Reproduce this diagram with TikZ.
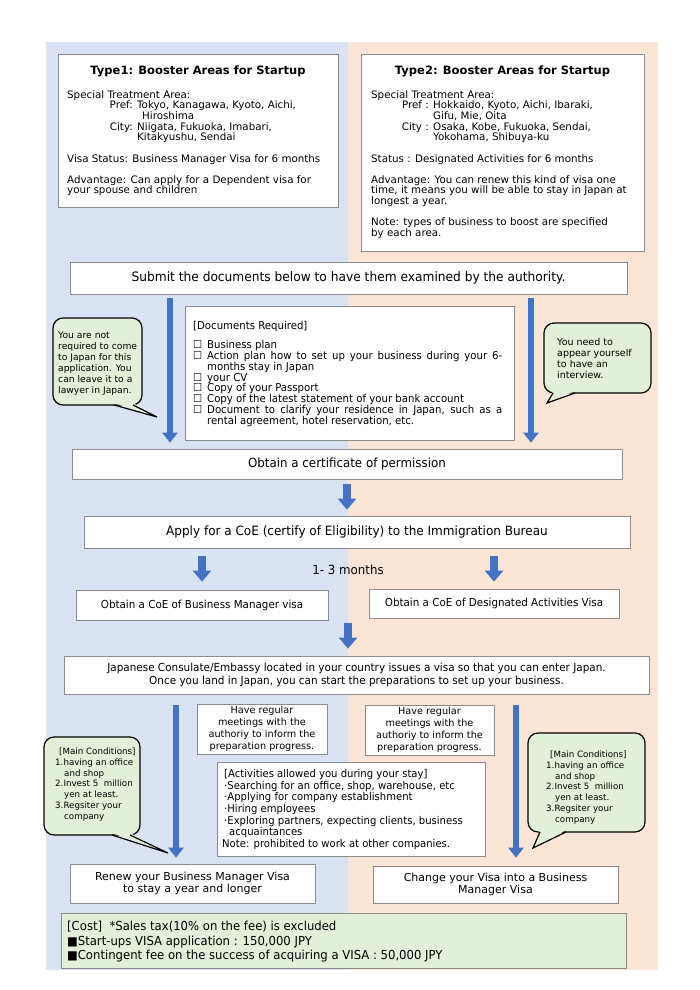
\documentclass[tikz,border=0pt]{standalone}
\usepackage{fontspec}
\setmainfont{DejaVu Sans}
\newfontfamily\uifont[FakeStretch=0.94]{DejaVu Sans}
\usetikzlibrary{arrows.meta}

\definecolor{panelblue}{HTML}{DAE3F3}
\definecolor{panelpeach}{HTML}{FBE5D6}
\definecolor{calloutgreen}{HTML}{E2F0D9}
\definecolor{arrowblue}{HTML}{4472C4}
\definecolor{boxgray}{HTML}{8C8C8C}

% one line of the documents list, with a hanging check box
\newcommand{\docitem}[1]{\par\noindent\hangindent=14pt\hangafter=1\makebox[14pt][l]{☐}#1\par}
% small black square of the cost list
\newcommand{\costmark}{{\fontsize{12}{12}\selectfont ■}}

\begin{document}
\begin{tikzpicture}[x=1pt, y=-1pt,
    box/.style={draw=boxgray, fill=white, line width=0.7pt, inner sep=0pt},
    typetitle/.style={font=\bfseries\fontsize{11.5}{13}\selectfont, inner sep=0pt},
    typebody/.style={font=\fontsize{10.3}{10.7}\selectfont, align=left, inner sep=0pt, anchor=north west},
    steptext/.style={font=\uifont\fontsize{12.8}{14}\selectfont, align=center, inner sep=0pt},
    calloutbox/.style={draw=black, fill=calloutgreen, line width=1.2pt, rounded corners=10pt, inner sep=0pt},
    callouttext/.style={font=\fontsize{9.2}{11}\selectfont, align=left, inner sep=0pt, anchor=north west},
    tailline/.style={draw=black, line width=1.2pt, line join=miter},
    blockarrow/.style={draw=arrowblue, line width=6pt, -{Triangle[length=10pt, width=15pt]}},
  ]

    \useasboundingbox (0,0) rectangle (700,990);

    % Two coloured halves of the background
    \fill[panelblue] (46,42) rectangle (348,970);
    \fill[panelpeach] (348,42) rectangle (658,970);

    % Type1 box
    \node[box, minimum width=280, minimum height=153] (type1) at (198,130.5) {};
    \node[typetitle] (type1title) at (198,71) {Type1: Booster Areas for Startup};
    \node[typebody] (type1body) at (67,90) {Special Treatment Area:\\
        \makebox[70pt][r]{Pref: }Tokyo, Kanagawa, Kyoto, Aichi,\\
        \hspace*{75pt}Hiroshima\\
        \makebox[70pt][r]{City: }Niigata, Fukuoka, Imabari,\\
        \hspace*{70pt}Kitakyushu, Sendai\\[10.5pt]
        Visa Status: Business Manager Visa for 6 months\\[10.5pt]
        Advantage: Can apply for a Dependent visa for\\
        your spouse and children};

    % Type2 box
    \node[box, minimum width=283, minimum height=197] (type2) at (502.5,152.5) {};
    \node[typetitle] (type2title) at (502.5,71) {Type2: Booster Areas for Startup};
    \node[typebody] (type2body) at (371,90) {Special Treatment Area:\\
        \makebox[62pt][r]{Pref : }Hokkaido, Kyoto, Aichi, Ibaraki,\\
        \hspace*{62pt}Gifu, Mie, Oita\\
        \makebox[62pt][r]{City : }Osaka, Kobe, Fukuoka, Sendai,\\
        \hspace*{62pt}Yokohama, Shibuya-ku\\[10.5pt]
        Status : Designated Activities for 6 months\\[10.5pt]
        Advantage: You can renew this kind of visa one\\
        time, it means you will be able to stay in Japan at\\
        longest a year.\\[10.5pt]
        Note: types of business to boost are specified\\
        by each area.};

    % Submit step
    \node[box, minimum width=557, minimum height=32] (submit) at (348.5,278) {};
    \node[steptext, font=\uifont\fontsize{13}{14}\selectfont] (submittext) at (submit) {Submit the documents below to have them examined by the authority.};

    % Documents required
    \node[box, minimum width=329, minimum height=134] (docs) at (349.5,373) {};
    \node[inner sep=0pt, anchor=north west, text width=309, align=justify,
          font=\uifont\fontsize{10.8}{10.8}\selectfont] (docslist) at (193,321) {%
        \noindent[Documents Required]\par\vspace{8.5pt}
        \docitem{Business plan}
        \docitem{Action plan how to set up your business during your 6-\linebreak months stay in Japan}
        \docitem{your CV}
        \docitem{Copy of your Passport}
        \docitem{Copy of the latest statement of your bank account}
        \docitem{Document to clarify your residence in Japan, such as a\linebreak rental agreement, hotel reservation, etc.}};

    % Callout: no need to come to Japan
    \node[calloutbox, minimum width=89, minimum height=87] (notreq) at (97.5,361.5) {};
    \fill[calloutgreen] (114,403) -- (157,417) -- (133,403) -- cycle;
    \draw[tailline] (114,405) -- (157,417) -- (133,405);
    \node[callouttext] (notreqtext) at (58,332) {You are not\\required to come\\to Japan for this\\application. You\\can leave it to a\\lawyer in Japan.};

    % Callout: interview
    \node[calloutbox, minimum width=107, minimum height=70] (interview) at (597.5,358) {};
    \fill[calloutgreen] (553,391) -- (547,403) -- (575,391) -- cycle;
    \draw[tailline] (553,393) -- (547,403) -- (575,393);
    \node[callouttext, font=\fontsize{9.5}{11}\selectfont] (interviewtext) at (557,338) {You need to\\appear yourself\\to have an\\interview.};

    % Certificate of permission
    \node[box, minimum width=550, minimum height=30] (cert) at (347,464) {};
    \node[steptext, font=\uifont\fontsize{12.6}{14}\selectfont] (certtext) at (cert) {Obtain a certificate of permission};

    % Apply for CoE
    \node[box, minimum width=546, minimum height=32] (apply) at (357,532) {};
    \node[steptext] (applytext) at (apply) {Apply for a CoE (certify of Eligibility) to the Immigration Bureau};
    \node[steptext, font=\uifont\fontsize{12.6}{14}\selectfont] (months) at (348,570) {1- 3 months};

    % The two CoE results
    \node[box, minimum width=252, minimum height=30] (coebm) at (202,605) {};
    \node[steptext, font=\uifont\fontsize{11}{12}\selectfont] (coebmtext) at (coebm) {Obtain a CoE of Business Manager visa};
    \node[box, minimum width=250, minimum height=29] (coeda) at (494,603.5) {};
    \node[steptext, font=\uifont\fontsize{11}{12}\selectfont] (coedatext) at (coeda) {Obtain a CoE of Designated Activities Visa};

    % Visa issued by the consulate
    \node[box, minimum width=585, minimum height=38] (consulate) at (356.5,675) {};
    \node[steptext, font=\uifont\fontsize{11.1}{13}\selectfont] (consulatetext) at (consulate) {Japanese Consulate/Embassy located in your country issues a visa so that you can enter Japan.\\Once you land in Japan, you can start the preparations to set up your business.};

    % Regular meetings, both sides
    \node[box, minimum width=130, minimum height=50, align=center, font=\fontsize{9.7}{12}\selectfont] (meetleft) at (262,729) {Have regular\\meetings with the\\authoriy to inform the\\preparation progress.};
    \node[box, minimum width=129, minimum height=50, align=center, font=\fontsize{9.7}{12}\selectfont] (meetright) at (429.5,730) {Have regular\\meetings with the\\authoriy to inform the\\preparation progress.};

    % Activities during the stay
    \node[box, minimum width=268, minimum height=94] (activities) at (351,809) {};
    \node[inner sep=0pt, anchor=north west, align=left,
          font=\uifont\fontsize{10.7}{11.7}\selectfont] (activitiestext) at (224,769) {[Activities allowed you during your stay]\\
        ·Searching for an office, shop, warehouse, etc\\
        ·Applying for company establishment\\
        ·Hiring employees\\
        ·Exploring partners, expecting clients, business\\
        \hspace*{5pt}acquaintances\\
        \hspace*{-2pt}Note: prohibited to work at other companies.};

    % Callout: main conditions, left
    \node[calloutbox, minimum width=96, minimum height=98] (condleft) at (92,786) {};
    \fill[calloutgreen] (112,833) -- (168,853) -- (130,833) -- cycle;
    \draw[tailline] (112,835) -- (168,853) -- (130,835);
    \node[callouttext, font=\fontsize{8.7}{10.7}\selectfont] (condlefttext) at (55,748) {\hspace*{4pt}[Main Conditions]\\
        1.having an office\\
        \hspace*{9pt}and shop\\
        2.Invest 5\ \ million\\
        \hspace*{9pt}yen at least.\\
        3.Regsiter your\\
        \hspace*{9pt}company};

    % Callout: main conditions, right
    \node[calloutbox, minimum width=117, minimum height=99] (condright) at (586.5,782.5) {};
    \fill[calloutgreen] (540,830) -- (533,848) -- (566,830) -- cycle;
    \draw[tailline] (540,832) -- (533,848) -- (566,832);
    \node[callouttext, font=\fontsize{8.7}{10.7}\selectfont] (condrighttext) at (546,751) {\hspace*{4pt}[Main Conditions]\\
        1.having an office\\
        \hspace*{9pt}and shop\\
        2.Invest 5\ \ million\\
        \hspace*{9pt}yen at least.\\
        3.Regsiter your\\
        \hspace*{9pt}company};

    % Final steps
    \node[box, minimum width=245, minimum height=39, align=center, font=\fontsize{11}{12.5}\selectfont] (renew) at (192.5,883.5) {Renew your Business Manager Visa\\to stay a year and longer};
    \node[box, minimum width=245, minimum height=37, align=center, font=\fontsize{11}{12.5}\selectfont] (change) at (495.5,884.5) {Change your Visa into a Business\\Manager Visa};

    % Cost box
    \node[box, fill=calloutgreen, minimum width=565, minimum height=55] (cost) at (343.5,940.5) {};
    \node[inner sep=0pt, anchor=north west, align=left,
          font=\uifont\fontsize{12.4}{14.5}\selectfont] (costtext) at (67,921) {[Cost]\ \ *Sales tax(10\% on the fee) is excluded\\
        \costmark Start-ups VISA application : 150,000 JPY\\
        \costmark Contingent fee on the success of acquiring a VISA : 50,000 JPY};

    % Blue block arrows between the steps
    \coordinate (leftlane) at (170,0);
    \coordinate (rightlane) at (531,0);
    \draw[blockarrow] ([yshift=-4pt]submit.south -| leftlane) -- ([yshift=6pt]cert.north -| leftlane);
    \draw[blockarrow] ([yshift=-4pt]submit.south -| rightlane) -- ([yshift=6pt]cert.north -| rightlane);
    \draw[blockarrow, line width=8pt, -{Triangle[length=11pt, width=18pt]}] ([yshift=-5pt]cert.south) -- ([yshift=6pt]cert.south |- apply.north);
    \draw[blockarrow, line width=8pt, -{Triangle[length=11pt, width=18pt]}] ([yshift=-8pt]apply.south -| coebm.north) -- ([yshift=8pt]coebm.north);
    \draw[blockarrow, line width=8pt, -{Triangle[length=11pt, width=18pt]}] ([yshift=-8pt]apply.south -| coeda.north) -- ([yshift=7pt]coeda.north);
    \draw[blockarrow, line width=8pt, -{Triangle[length=11pt, width=18pt]}] ([yshift=-5pt]coeda.south -| months) -- ([yshift=7pt]consulate.north -| months);
    \coordinate (leftlow) at (176,0);
    \coordinate (rightlow) at (516,0);
    \draw[blockarrow] ([yshift=-11pt]consulate.south -| leftlow) -- ([yshift=6pt]renew.north -| leftlow);
    \draw[blockarrow] ([yshift=-11pt]consulate.south -| rightlow) -- ([yshift=8pt]change.north -| rightlow);

\end{tikzpicture}
\end{document}
